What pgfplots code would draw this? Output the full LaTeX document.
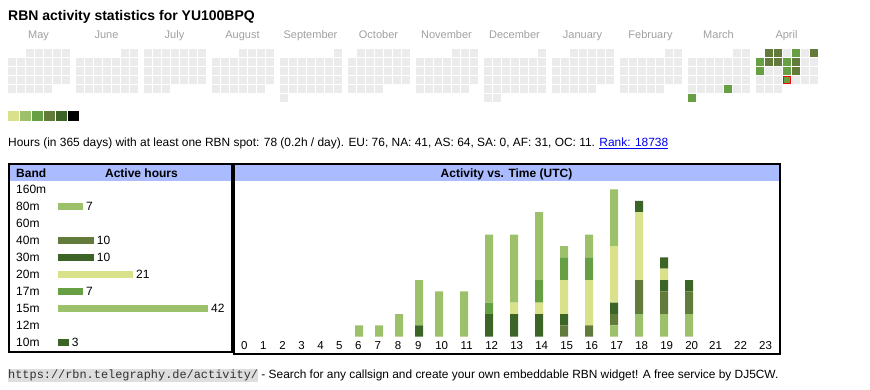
\documentclass[border=0pt]{standalone}
\usepackage{pgfplots}
\pgfplotsset{compat=1.18}
\usepackage{fontspec}
\setmainfont{Liberation Sans}
\setmonofont{Liberation Mono}
\definecolor{c1}{RGB}{217,226,138}
\definecolor{c2}{RGB}{157,193,106}
\definecolor{c3}{RGB}{103,159,69}
\definecolor{c4}{RGB}{99,123,58}
\definecolor{c5}{RGB}{59,100,38}
\definecolor{cellgray}{RGB}{235,235,235}
\definecolor{headblue}{RGB}{170,187,255}
\definecolor{monthgray}{RGB}{160,160,160}
\definecolor{urlbg}{RGB}{222,222,222}
\definecolor{linkblue}{RGB}{0,0,238}
\newcommand\fs[1]{\fontsize{#1}{#1}\selectfont}
% calendar grid: month index / weekday of the 1st (Mon=0) / number of days
\def\cells{}
\foreach \m/\s/\n in {0/2/31,1/5/30,2/0/31,3/3/31,4/6/30,5/1/31,6/4/30,7/6/31,8/2/31,9/5/28,10/5/31,11/1/30}{%
  \foreach \d in {1,...,\n}{%
    \pgfmathtruncatemacro\idx{\s+\d-1}%
    \pgfmathtruncatemacro\col{mod(\idx,7)}%
    \pgfmathtruncatemacro\row{floor(\idx/7)}%
    \pgfmathsetmacro\cx{11.5+68*\m+9*\col}%
    \pgfmathsetmacro\cy{52.8+9*\row}%
    \xdef\cells{\cells(\cx,\cy)}%
  }%
}
\pgfplotsset{cellstyle/.style={only marks, mark=square*, mark size=3.3pt, mark options={line width=0.4pt, fill=#1, draw=#1}}}
\tikzset{month/.style={anchor=base, inner sep=0pt, text=monthgray, font=\fs{11}}}
\begin{document}
\begin{tikzpicture}
\path[use as bounding box] (0pt,0pt) rectangle (870pt,-390pt);
\begin{axis}[at={(0pt,-390pt)}, anchor=south west, width=870pt, height=390pt, scale only axis,
  xmin=0, xmax=870, ymin=0, ymax=390, y dir=reverse, hide axis, clip=false]
\fill[headblue] (axis cs:10,165) rectangle (axis cs:230.5,181);
\fill[headblue] (axis cs:234.5,165) rectangle (axis cs:778.5,181);
\draw[line width=2pt] (axis cs:9,164) rectangle (axis cs:231.5,351.7);
\draw[line width=2pt] (axis cs:233.5,164) rectangle (axis cs:779.5,353.8);
\node[anchor=base west, inner sep=0pt, font=\bfseries\fs{14}] at (axis cs:8,20.7) {RBN activity statistics for YU100BPQ};
\node[month] at (axis cs:38.5,38.5) {May};
\node[month] at (axis cs:106.5,38.5) {June};
\node[month] at (axis cs:174.5,38.5) {July};
\node[month] at (axis cs:242.5,38.5) {August};
\node[month] at (axis cs:310.5,38.5) {September};
\node[month] at (axis cs:378.5,38.5) {October};
\node[month] at (axis cs:446.5,38.5) {November};
\node[month] at (axis cs:514.5,38.5) {December};
\node[month] at (axis cs:582.5,38.5) {January};
\node[month] at (axis cs:650.5,38.5) {February};
\node[month] at (axis cs:718.5,38.5) {March};
\node[month] at (axis cs:786.5,38.5) {April};
\edef\tmp{\noexpand\addplot[cellstyle=cellgray] coordinates {\cells};}\tmp
% active days
\addplot[cellstyle=c3] coordinates {(727.5,88.8) (691.5,97.8) (795.5,52.8) (759.5,61.8) (786.5,61.8) (759.5,70.8) (786.5,70.8)};
\addplot[cellstyle=c4] coordinates {(768.5,52.8) (777.5,52.8) (813.5,52.8) (768.5,61.8) (777.5,61.8) (795.5,61.8) (795.5,70.8)};
\addplot[only marks, mark=square*, mark size=3.5pt, mark options={line width=1pt, fill=c3, draw=red}] coordinates {(786.5,79.8)};
% colour scale
\addplot[only marks, mark=square*, mark size=4.8pt, mark options={line width=0.4pt, fill=c1, draw=c1}] coordinates {(13,115.8)};
\addplot[only marks, mark=square*, mark size=4.8pt, mark options={line width=0.4pt, fill=c2, draw=c2}] coordinates {(25,115.8)};
\addplot[only marks, mark=square*, mark size=4.8pt, mark options={line width=0.4pt, fill=c3, draw=c3}] coordinates {(37,115.8)};
\addplot[only marks, mark=square*, mark size=4.8pt, mark options={line width=0.4pt, fill=c4, draw=c4}] coordinates {(49,115.8)};
\addplot[only marks, mark=square*, mark size=4.8pt, mark options={line width=0.4pt, fill=c5, draw=c5}] coordinates {(61,115.8)};
\addplot[only marks, mark=square*, mark size=4.8pt, mark options={line width=0.4pt, fill=black, draw=black}] coordinates {(73,115.8)};
\node[anchor=base west, inner sep=0pt, font=\fs{11.93}] at (axis cs:8,146.7) {Hours (in 365 days) with at least one RBN spot: 78 (0.2h / day). EU: 76, NA: 41, AS: 64, SA: 0, AF: 31, OC: 11. \textcolor{linkblue}{\underline{Rank: 18738}}};
\node[anchor=base west, inner sep=0pt, font=\bfseries\fs{12}] at (axis cs:16,177) {Band};
\node[anchor=base, inner sep=0pt, font=\bfseries\fs{12}] at (axis cs:141.5,177) {Active hours};
\node[anchor=base, inner sep=0pt, font=\bfseries\fs{12}] at (axis cs:506.5,177) {Activity vs. Time (UTC)};
\node[anchor=base west, inner sep=0pt, font=\fs{11.9}] at (axis cs:8,378) {\setlength{\fboxsep}{0pt}\colorbox{urlbg}{\ttfamily\color[RGB]{50,50,50}\vrule height 9pt depth 3.7pt width 0pt https://rbn.telegraphy.de/activity/} - Search for any callsign and create your own embeddable RBN widget! A free service by DJ5CW.};
\end{axis}
% band table
\begin{axis}[at={(58pt,-350.8pt)}, anchor=south west, scale only axis, width=150pt, height=170pt,
  xmin=0, xmax=42, ymin=-0.5, ymax=9.5, y dir=reverse, xbar, bar width=7.5pt,
  axis line style={draw=none}, major tick length=0pt, xtick=\empty,
  ytick={0,1,2,3,4,5,6,7,8,9}, yticklabels={160m,80m,60m,40m,30m,20m,17m,15m,12m,10m},
  yticklabel style={anchor=base west, inner sep=0pt, xshift=-42pt, yshift=-4pt, font=\fs{12}},
  nodes near coords, nodes near coords align={horizontal},
  every node near coord/.append style={anchor=west, inner sep=3pt, font=\fs{12}},
  /pgf/number format/assume math mode=true,
  every axis plot/.append style={bar shift=0pt, draw=none}, clip=false]
\addplot[fill=c2] coordinates {(7,1)};
\addplot[fill=c4] coordinates {(10,3)};
\addplot[fill=c5] coordinates {(10,4)};
\addplot[fill=c1] coordinates {(21,5)};
\addplot[fill=c3] coordinates {(7,6)};
\addplot[fill=c2] coordinates {(42,7)};
\addplot[fill=c5] coordinates {(3,9)};
\end{axis}
% activity vs time
\begin{axis}[at={(233pt,-336.7pt)}, anchor=south west, scale only axis, width=548pt, height=158.6pt,
  xmin=233, xmax=781, ymin=0, ymax=14, ybar stacked, bar width=8pt,
  axis line style={draw=none}, major tick length=0pt, ytick=\empty,
  xtick={244.3,263.3,282.5,301.5,320.5,339.3,358.3,377.7,398,418.3,441.7,466.7,491.7,516.7,541.7,566.7,591.7,616.7,641.7,666.7,691.7,715.5,740.5,765.5},
  xticklabels={0,1,2,3,4,5,6,7,8,9,10,11,12,13,14,15,16,17,18,19,20,21,22,23},
  xticklabel style={anchor=base, inner sep=0pt, yshift=-12.6pt, font=\fs{11.5}},
  every axis plot/.append style={draw=none}, clip=false]
% 80m
\addplot[fill=c2] coordinates {(359,0) (379,0) (399,0) (419,0) (439,0) (464,0) (489,0) (514,0) (539,0) (564,0) (589,0) (614,1) (639,2) (664,2) (689,2)};
% 40m
\addplot[fill=c4] coordinates {(359,0) (379,0) (399,0) (419,0) (439,0) (464,0) (489,0) (514,0) (539,0) (564,1) (589,1) (614,1) (639,3) (664,2) (689,2)};
% 30m
\addplot[fill=c5] coordinates {(359,0) (379,0) (399,0) (419,1) (439,0) (464,0) (489,2) (514,2) (539,2) (564,1) (589,0) (614,1) (639,0) (664,1) (689,0)};
% 20m
\addplot[fill=c1] coordinates {(359,0) (379,0) (399,0) (419,0) (439,0) (464,0) (489,0) (514,1) (539,1) (564,3) (589,4) (614,5) (639,6) (664,1) (689,0)};
% 17m
\addplot[fill=c3] coordinates {(359,0) (379,0) (399,0) (419,0) (439,0) (464,0) (489,1) (514,0) (539,2) (564,2) (589,2) (614,0) (639,0) (664,0) (689,0)};
% 15m
\addplot[fill=c2] coordinates {(359,1) (379,1) (399,2) (419,4) (439,4) (464,4) (489,6) (514,6) (539,6) (564,1) (589,2) (614,5) (639,0) (664,0) (689,0)};
% 10m
\addplot[fill=c5] coordinates {(359,0) (379,0) (399,0) (419,0) (439,0) (464,0) (489,0) (514,0) (539,0) (564,0) (589,0) (614,0) (639,1) (664,1) (689,1)};
\end{axis}
\end{tikzpicture}
\end{document}
